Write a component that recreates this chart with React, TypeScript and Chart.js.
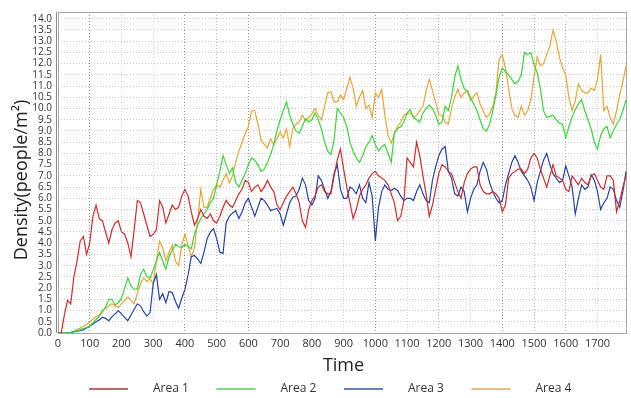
import React, { useEffect, useRef } from "react";
import { Chart, registerables } from "chart.js";

Chart.register(...registerables);

const TIMES = [
  0, 10, 20, 30, 40, 50, 60, 70, 80, 90, 100, 110, 120, 130, 140, 150, 160, 170, 180, 190,
  200, 210, 220, 230, 240, 250, 260, 270, 280, 290, 300, 310, 320, 330, 340, 350, 360, 370, 380, 390,
  400, 410, 420, 430, 440, 450, 460, 470, 480, 490, 500, 510, 520, 530, 540, 550, 560, 570, 580, 590,
  600, 610, 620, 630, 640, 650, 660, 670, 680, 690, 700, 710, 720, 730, 740, 750, 760, 770, 780, 790,
  800, 810, 820, 830, 840, 850, 860, 870, 880, 890, 900, 910, 920, 930, 940, 950, 960, 970, 980, 990,
  1000, 1010, 1020, 1030, 1040, 1050, 1060, 1070, 1080, 1090, 1100, 1110, 1120, 1130, 1140, 1150, 1160, 1170, 1180, 1190,
  1200, 1210, 1220, 1230, 1240, 1250, 1260, 1270, 1280, 1290, 1300, 1310, 1320, 1330, 1340, 1350, 1360, 1370, 1380, 1390,
  1400, 1410, 1420, 1430, 1440, 1450, 1460, 1470, 1480, 1490, 1500, 1510, 1520, 1530, 1540, 1550, 1560, 1570, 1580, 1590,
  1600, 1610, 1620, 1630, 1640, 1650, 1660, 1670, 1680, 1690, 1700, 1710, 1720, 1730, 1740, 1750, 1760, 1770, 1780, 1790,
];

const AREA1 = [
  0, 0, 0.8, 1.45, 1.3, 2.5, 3.2, 4.1, 4.3, 3.5, 4.0, 5.2, 5.7, 5.1, 5.0, 4.5, 4.0, 4.6, 4.9, 5.0,
  4.5, 4.4, 4.0, 3.4, 4.6, 5.9, 5.8, 5.3, 4.8, 4.3, 4.4, 4.6, 5.9, 5.6, 4.9, 5.3, 5.7, 5.5, 5.6, 6.1,
  6.4, 6.1, 5.4, 4.8, 5.1, 5.5, 5.2, 5.1, 5.3, 5.0, 4.9, 5.2, 5.6, 5.9, 5.7, 5.6, 5.9, 6.2, 6.4, 6.8,
  6.7, 6.3, 6.5, 6.6, 6.3, 6.5, 6.8, 6.5, 6.3, 5.7, 5.5, 5.8, 6.1, 6.3, 6.5, 6.2, 5.8, 5.0, 4.7, 5.5,
  5.9, 6.1, 6.5, 6.6, 6.3, 6.2, 6.2, 7.0, 7.7, 8.2, 7.3, 6.5, 5.8, 5.1, 5.5, 6.1, 6.4, 6.6, 6.9, 7.1,
  7.2, 7.0, 6.9, 6.8, 6.6, 6.2, 5.8, 5.0, 5.2, 5.9, 7.8, 7.6, 7.4, 8.5, 7.9, 7.0, 6.2, 5.2, 5.7, 6.4,
  7.1, 7.5, 7.4, 7.2, 7.1, 6.7, 6.3, 6.0, 6.7, 7.1, 7.3, 7.4, 7.4, 6.6, 6.3, 6.2, 6.2, 6.3, 6.2, 6.0,
  5.4, 5.7, 6.9, 7.1, 7.2, 7.3, 7.3, 7.1, 7.3, 7.8, 8.0, 7.8, 7.3, 6.9, 6.5, 7.0, 7.5, 7.0, 6.9, 6.8,
  6.4, 6.3, 7.0, 6.8, 6.6, 6.9, 6.7, 6.6, 7.0, 7.1, 6.8, 6.5, 6.4, 7.0, 7.0, 6.8, 5.4, 5.9, 6.5, 7.0,
];

const AREA2 = [
  0, 0, 0, 0, 0.02, 0.05, 0.1, 0.15, 0.2, 0.25, 0.3, 0.45, 0.6, 0.75, 0.95, 1.15, 1.5, 1.5, 1.25, 1.35,
  1.55, 2.0, 2.45, 2.1, 1.95, 1.95, 2.6, 2.85, 2.5, 2.45, 2.8, 3.2, 3.6, 3.2, 2.85, 3.4, 3.7, 3.95, 3.85, 3.8,
  3.95, 3.85, 3.75, 4.4, 4.8, 5.1, 5.3, 5.5, 5.8, 6.0, 6.6, 7.2, 7.9, 7.5, 7.1, 7.35, 6.7, 6.5, 6.8, 7.1,
  7.5, 7.8, 7.7, 7.5, 7.2, 7.3, 7.6, 7.95, 8.4, 9.0, 9.5, 9.9, 10.3, 9.7, 9.3, 9.0, 8.9, 9.2, 9.55, 9.4,
  9.5, 9.8, 9.5, 9.1, 8.5, 8.1, 7.95, 8.6, 10.0, 9.8, 9.6, 9.2, 8.5, 8.1, 7.8, 7.6, 7.9, 8.3, 8.5, 8.8,
  8.4, 8.1, 8.3, 8.4, 8.0, 7.6, 8.9, 9.1, 9.2, 9.4, 9.8, 9.95, 9.6, 9.5, 9.4, 9.8, 10.0, 10.15, 10.0, 9.7,
  9.3, 9.4, 10.1, 9.9, 10.5, 11.4, 11.9, 11.3, 10.9, 10.75, 10.5, 10.2, 9.9, 9.5, 9.1, 9.0, 9.3, 9.9, 10.6, 11.4,
  11.8, 11.65, 11.5, 11.3, 11.1, 11.2, 11.5, 12.5, 12.4, 12.5, 11.95, 11.6, 10.9, 9.9, 9.6, 9.65, 9.7, 9.5, 9.35, 9.3,
  8.7, 9.2, 9.6, 9.95, 10.2, 10.4, 9.9, 9.5, 9.1, 8.5, 8.2, 8.8, 9.1, 9.2, 8.7, 9.0, 9.3, 9.5, 9.9, 10.4,
];

const AREA3 = [
  0, 0, 0, 0, 0.02, 0.05, 0.08, 0.1, 0.15, 0.22, 0.3, 0.4, 0.5, 0.58, 0.7, 0.65, 0.55, 0.72, 0.85, 1.0,
  0.85, 0.7, 0.55, 0.8, 1.05, 1.3, 1.2, 0.95, 0.75, 0.9, 2.2, 2.6, 1.5, 1.75, 1.35, 1.85, 1.8, 1.4, 1.1, 1.55,
  1.95, 2.6, 3.4, 3.45, 3.3, 3.1, 3.6, 4.2, 4.5, 4.65, 4.2, 3.6, 3.55, 4.9, 5.2, 5.35, 5.45, 5.1, 5.4, 5.8,
  6.0, 5.6, 5.2, 5.6, 6.0, 5.9, 5.7, 5.45, 5.5, 5.55, 5.3, 4.8, 5.3, 5.8, 6.05, 6.1, 6.4, 6.9, 6.6, 5.9,
  5.7, 6.0, 7.0, 6.8, 6.4, 6.0, 6.3, 7.1, 7.5, 6.4, 6.0, 6.0, 6.5, 6.4, 6.2, 6.6, 6.0, 5.8, 6.7, 6.1,
  4.1, 5.6, 6.3, 6.6, 6.4, 6.35, 6.45, 6.35, 6.1, 5.9, 6.0, 6.0, 5.9, 6.3, 6.6, 6.2, 5.9, 5.8, 6.8, 7.4,
  7.9, 8.2, 8.3, 7.2, 6.9, 6.2, 6.1, 6.5, 6.3, 5.4, 6.0, 6.4, 6.6, 7.2, 7.6, 7.3, 6.7, 6.3, 6.0, 5.8,
  5.9, 6.6, 7.1, 7.6, 7.9, 7.6, 7.2, 7.0, 6.8, 6.5, 5.9, 6.7, 7.2, 7.7, 8.0, 7.5, 7.1, 6.9, 6.7, 6.8,
  7.45, 7.0, 6.5, 5.3, 6.0, 6.6, 6.4, 6.5, 7.05, 6.8, 6.3, 5.5, 5.8, 6.0, 6.5, 6.4, 5.9, 5.6, 6.3, 7.2,
];

const AREA4 = [
  0, 0, 0, 0, 0.03, 0.08, 0.15, 0.22, 0.3, 0.38, 0.5, 0.62, 0.72, 0.8, 1.0, 1.1, 1.2, 1.3, 1.2, 1.15,
  1.3, 1.45, 1.6, 1.45, 1.3, 1.75, 2.2, 2.45, 2.3, 2.4, 2.2, 3.2, 4.1, 3.8, 3.2, 3.6, 3.9, 3.2, 3.0, 3.9,
  4.4, 3.9, 3.4, 3.8, 5.0, 6.4, 5.6, 5.6, 6.0, 6.4, 6.6, 6.5, 6.8, 7.1, 6.7, 7.0, 7.6, 8.1, 8.5, 8.9,
  9.2, 9.9, 9.9, 9.3, 8.6, 8.4, 8.25, 8.65, 8.4, 8.65, 8.95, 8.7, 9.1, 8.3, 9.1, 9.3, 9.4, 9.7, 9.45, 9.6,
  9.75, 10.0, 9.7, 9.5, 10.1, 10.7, 10.75, 10.3, 10.3, 10.6, 10.4, 10.9, 11.4, 10.9, 10.1, 10.5, 10.8, 10.0, 10.15, 9.6,
  10.7, 10.5, 10.85, 9.7, 8.8, 8.45, 8.9, 9.2, 9.4, 9.7, 9.8, 9.8, 9.6, 9.7, 9.9, 10.1, 10.8, 11.3, 10.8, 10.3,
  9.7, 9.7, 9.4, 9.3, 10.0, 10.5, 10.85, 10.5, 10.7, 10.8, 10.35, 10.55, 10.7, 10.2, 9.9, 9.6, 9.75, 10.1, 10.7, 12.2,
  12.4, 11.8, 10.9, 10.0, 9.7, 9.6, 10.1, 9.7, 9.9, 10.4, 11.4, 12.3, 11.9, 12.0, 12.4, 12.8, 13.5, 13.0, 12.3, 11.8,
  11.5, 10.5, 9.9, 10.35, 11.1, 10.8, 10.7, 10.7, 10.9, 10.8, 11.3, 12.4, 9.9, 10.1, 9.6, 9.3, 9.9, 10.6, 11.2, 11.9,
];

const SERIES_NAMES = ["Area 1", "Area 2", "Area 3", "Area 4"];
const X_TICKS = [0, 100, 200, 300, 400, 500, 600, 700, 800, 900, 1000, 1100, 1200, 1300, 1400, 1500, 1600, 1700];
const Y_TICKS = [
  0, 0.5, 1, 1.5, 2, 2.5, 3, 3.5, 4, 4.5, 5, 5.5, 6, 6.5, 7, 7.5, 8, 8.5, 9, 9.5, 10, 10.5, 11, 11.5, 12, 12.5, 13, 13.5, 14,
];
const X_TITLE = "Time";
const Y_TITLE = "Density(people/m²)";

const FONT = "'Open Sans', 'Noto Sans', sans-serif";
const LINE_COLORS = ["#d42a2a", "#35d835", "#2444a8", "#eba332"];
const LEGEND_COLORS = ["#c46868", "#84d884", "#6780b6", "#e4c084"];
const DARK_V = [100, 400, 600, 1000, 1400];
const MID_V = [500, 1200, 1500, 1600];

export default function App() {
  const ref = useRef<HTMLCanvasElement>(null);

  useEffect(() => {
    const canvas = ref.current;
    if (!canvas) return;
    const series = [AREA1, AREA2, AREA3, AREA4];

    const decor = {
      id: "decor",
      beforeDatasetsDraw(chart: any) {
        const { ctx, chartArea: a } = chart;
        ctx.save();
        ctx.strokeStyle = "#a8a8a8";
        ctx.lineWidth = 1;
        ctx.strokeRect(a.left + 0.5, a.top + 0.5, a.right - a.left - 1, a.bottom - a.top);
        ctx.strokeStyle = "#8a8a8a";
        ctx.beginPath();
        ctx.moveTo(a.left - 1.5, a.top);
        ctx.lineTo(a.left - 1.5, a.bottom);
        ctx.stroke();
        ctx.restore();
      },
      afterDraw(chart: any) {
        const { ctx, chartArea: a } = chart;
        ctx.save();
        ctx.fillStyle = "#222";
        ctx.font = `18px ${FONT}`;
        ctx.textAlign = "center";
        ctx.textBaseline = "middle";
        ctx.fillText(X_TITLE, (a.left + a.right) / 2 + 1, 366);
        ctx.save();
        ctx.translate(22, 180);
        ctx.rotate(-Math.PI / 2);
        ctx.fillText(Y_TITLE, 0, 0);
        ctx.restore();

        // legend
        const startX = 89;
        const step = 127.5;
        const y = 389;
        ctx.font = `12px ${FONT}`;
        ctx.textAlign = "left";
        ctx.fillStyle = "#333";
        SERIES_NAMES.forEach((name, i) => {
          const x = startX + i * step;
          ctx.strokeStyle = LEGEND_COLORS[i];
          ctx.lineWidth = 2;
          ctx.beginPath();
          ctx.moveTo(x, y);
          ctx.lineTo(x + 39, y);
          ctx.stroke();
          ctx.fillText(name, x + 64, y);
        });
        ctx.restore();
      },
    };

    const chart = new Chart(canvas, {
      type: "line",
      data: {
        datasets: series.map((vals, i) => ({
          label: SERIES_NAMES[i],
          data: TIMES.map((t, j) => ({ x: t, y: vals[j] })),
          borderColor: LINE_COLORS[i],
          backgroundColor: LINE_COLORS[i],
          borderWidth: 1.2,
          pointRadius: 0,
          tension: 0,
          fill: false,
        })),
      },
      options: {
        animation: false,
        responsive: false,
        maintainAspectRatio: false,
        layout: { padding: { top: 10, right: 4, left: 0, bottom: 0 } },
        plugins: { legend: { display: false }, tooltip: { enabled: false } },
        scales: {
          x: {
            type: "linear",
            min: 0,
            max: 1793,
            afterBuildTicks: (s: any) => {
              s.ticks = X_TICKS.map((v) => ({ value: v }));
            },
            afterFit: (s: any) => {
              s.height = 65;
            },
            ticks: {
              padding: 4,
              autoSkip: false,
              maxRotation: 0,
              color: "#333",
              font: { family: FONT, size: 11 },
              callback: (v: any) => String(v),
            },
            grid: {
              drawTicks: false,
              lineWidth: 1,
              color: (c: any) => {
                const v = c.tick ? c.tick.value : -1;
                if (DARK_V.includes(v)) return "#8e8e8e";
                if (MID_V.includes(v)) return "#b4b4b4";
                return "#d2d2d2";
              },
            },
            border: { display: false, dash: [1, 2] },
          },
          y: {
            type: "linear",
            min: 0,
            max: 14.3,
            afterBuildTicks: (s: any) => {
              s.ticks = Y_TICKS.map((v) => ({ value: v }));
            },
            afterFit: (s: any) => {
              s.width = 58;
            },
            ticks: {
              padding: 6,
              autoSkip: false,
              color: "#333",
              font: { family: FONT, size: 10 },
              callback: (v: any) => Number(v).toFixed(1),
            },
            grid: { drawTicks: false, lineWidth: 1, color: "#c4c4c4" },
            border: { display: false, dash: [1, 2] },
          },
        },
      },
      plugins: [decor],
    } as any);

    return () => chart.destroy();
  }, []);

  return (
    <div style={{ position: "fixed", left: 0, top: 0, width: 631, height: 398, background: "#fff" }}>
      <canvas ref={ref} width={631} height={398} style={{ width: 631, height: 398, display: "block" }} />
    </div>
  );
}
